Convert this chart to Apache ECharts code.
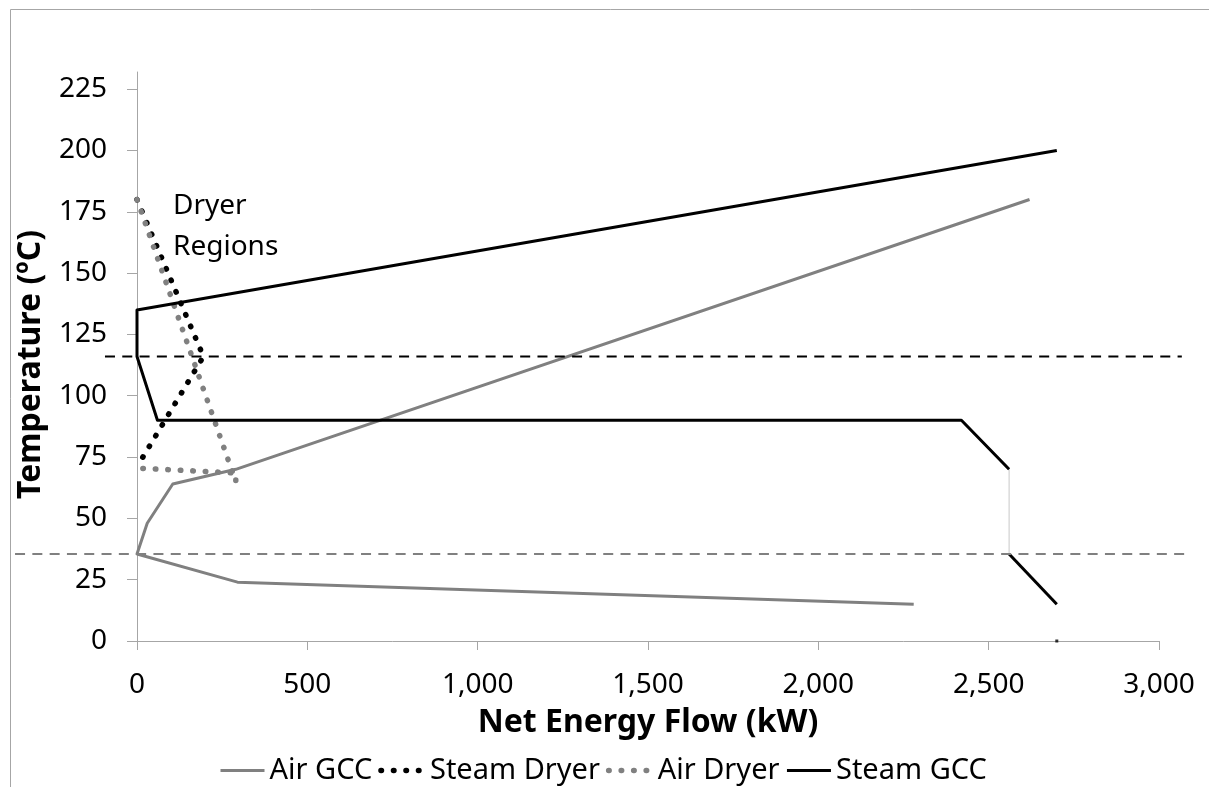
<!DOCTYPE html>
<html>
<head>
<meta charset="utf-8">
<script src="https://cdn.jsdelivr.net/npm/echarts@6/dist/echarts.min.js"></script>
<style>
  html, body { margin: 0; padding: 0; background: #fff; }
  #chart { width: 1209px; height: 787px; }
</style>
</head>
<body>
<div id="chart"></div>
<script>
// Composite curves: net energy flow (kW) vs temperature (ºC)
const xTicks = [0, 500, 1000, 1500, 2000, 2500, 3000];
const yTicks = [0, 25, 50, 75, 100, 125, 150, 175, 200, 225];

const airGcc = [[2620, 180], [290, 70], [105, 64], [30, 48], [0, 35.5], [295, 24], [2280, 15]];
const steamDryer = [[0, 180], [195, 116], [0, 71]];
const airDryer = [[0, 180], [290, 65], [290, 68.5], [0, 70.5]];
const steamGccUpper = [[2700, 200], [0, 135], [0, 116], [60, 90], [2420, 90], [2560, 70]];
const steamGccLower = [[2560, 35.5], [2700, 15]];
const steamGccLink = [[2560, 70], [2560, 35.5]];
const steamGccFoot = [[2700, 0]];

// Region boundaries, running a little past both ends of the plot
const dryerUpperBound = [[-94, 116], [3067, 116]];
const dryerLowerBound = [[-358, 35.5], [3076, 35.5]];

const FONT = '"Noto Sans", sans-serif';
const GRAY = '#808080';
const AXIS_GRAY = '#a6a6a6';
const DOTS = [0.5, 12];

// Plot frame: x 0..3000 spans pixels 137..1159; y 0..232 spans 641..72
const PLOT_LEFT = 137, PLOT_RIGHT_PX = 1159, WIDTH = 1209;
const X_MIN = 0, X_MAX = 3000;
const pxPerUnit = (PLOT_RIGHT_PX - PLOT_LEFT) / (X_MAX - X_MIN);
// A full-width overlay grid shares the same x scale so the boundary lines can overhang
const wideMin = X_MIN - PLOT_LEFT / pxPerUnit;
const wideMax = X_MAX + (WIDTH - PLOT_RIGHT_PX) / pxPerUnit;

const chart = echarts.init(document.getElementById('chart'), null, { renderer: 'canvas' });

const lineBase = { type: 'line', symbol: 'none', showSymbol: false, animation: false, silent: true };

chart.setOption({
  animation: false,
  backgroundColor: '#fff',
  grid: [
    { left: PLOT_LEFT, right: WIDTH - PLOT_RIGHT_PX, top: 72, bottom: 146, containLabel: false },
    { left: 0, right: 0, top: 72, bottom: 146, containLabel: false }
  ],
  graphic: [
    {
      type: 'rect', left: 8, top: 7, silent: true,
      shape: { width: 1230, height: 820 },
      style: { fill: 'none', stroke: AXIS_GRAY, lineWidth: 1 }
    },
    {
      type: 'text', left: 173, top: 186, silent: true,
      style: { text: 'Dryer\nRegions', font: '28px ' + FONT, fill: '#000', lineHeight: 41 }
    }
  ],
  legend: {
    left: 214, top: 751,
    itemWidth: 44, itemHeight: 6, itemGap: 6,
    itemStyle: { opacity: 0, borderWidth: 0 },
    lineStyle: { width: 'inherit' },
    textStyle: { fontFamily: FONT, fontSize: 29, color: '#000' },
    data: ['Air GCC', 'Steam Dryer', 'Air Dryer', 'Steam GCC']
  },
  xAxis: [
    {
      type: 'value', gridIndex: 0, min: X_MIN, max: X_MAX,
      name: 'Net Energy Flow (kW)', nameLocation: 'middle', nameGap: 66,
      nameTextStyle: { fontFamily: FONT, fontSize: 32, fontWeight: 'bold', color: '#000' },
      axisLine: { show: true, lineStyle: { color: AXIS_GRAY, width: 1 } },
      axisTick: { show: true, length: 9, lineStyle: { color: AXIS_GRAY }, customValues: xTicks },
      axisLabel: {
        customValues: xTicks, margin: 30,
        fontFamily: FONT, fontSize: 28, color: '#000',
        formatter: v => Number(v).toLocaleString('en-US')
      },
      splitLine: { show: false }
    },
    {
      type: 'value', gridIndex: 1, min: wideMin, max: wideMax, show: false
    }
  ],
  yAxis: [
    {
      type: 'value', gridIndex: 0, min: 0, max: 232,
      name: 'Temperature (ºC)', nameLocation: 'middle', nameGap: 90,
      nameTextStyle: { fontFamily: FONT, fontSize: 32, fontWeight: 'bold', color: '#000', padding: [0, 16, 0, 0] },
      axisLine: { show: true, lineStyle: { color: AXIS_GRAY, width: 1 } },
      axisTick: { show: true, length: 10, lineStyle: { color: AXIS_GRAY }, customValues: yTicks },
      axisLabel: {
        customValues: yTicks, margin: 30,
        fontFamily: FONT, fontSize: 28, color: '#000'
      },
      splitLine: { show: false }
    },
    {
      type: 'value', gridIndex: 1, min: 0, max: 232, show: false
    }
  ],
  series: [
    Object.assign({}, lineBase, {
      name: 'Air GCC', data: airGcc, z: 2,
      lineStyle: { color: GRAY, width: 3, join: 'round' }, itemStyle: { color: GRAY }
    }),
    Object.assign({}, lineBase, {
      name: 'Steam Dryer', data: steamDryer, z: 3,
      lineStyle: { color: '#000', width: 5.5, type: DOTS, cap: 'round' }, itemStyle: { color: '#000' }
    }),
    Object.assign({}, lineBase, {
      name: 'Air Dryer', data: airDryer, z: 4,
      lineStyle: { color: GRAY, width: 5.5, type: DOTS, cap: 'round' }, itemStyle: { color: GRAY }
    }),
    Object.assign({}, lineBase, {
      name: 'Steam GCC', data: steamGccUpper, z: 5,
      lineStyle: { color: '#000', width: 3, join: 'round' }, itemStyle: { color: '#000' }
    }),
    Object.assign({}, lineBase, {
      name: 'Steam GCC', data: steamGccLower, z: 5,
      lineStyle: { color: '#000', width: 3 }, itemStyle: { color: '#000' }
    }),
    Object.assign({}, lineBase, {
      name: 'link', data: steamGccLink, z: 1,
      lineStyle: { color: '#c8c8c8', width: 1 }
    }),
    {
      type: 'scatter', name: 'foot', data: steamGccFoot, symbol: 'rect', symbolSize: [3, 3],
      itemStyle: { color: '#000' }, silent: true, z: 6, animation: false
    },
    Object.assign({}, lineBase, {
      name: 'upper bound', data: dryerUpperBound, xAxisIndex: 1, yAxisIndex: 1, z: 6,
      lineStyle: { color: '#000', width: 2, type: [10, 7.3] }
    }),
    Object.assign({}, lineBase, {
      name: 'lower bound', data: dryerLowerBound, xAxisIndex: 1, yAxisIndex: 1, z: 6,
      lineStyle: { color: GRAY, width: 2, type: [10, 7.3] }
    })
  ]
});
</script>
</body>
</html>
